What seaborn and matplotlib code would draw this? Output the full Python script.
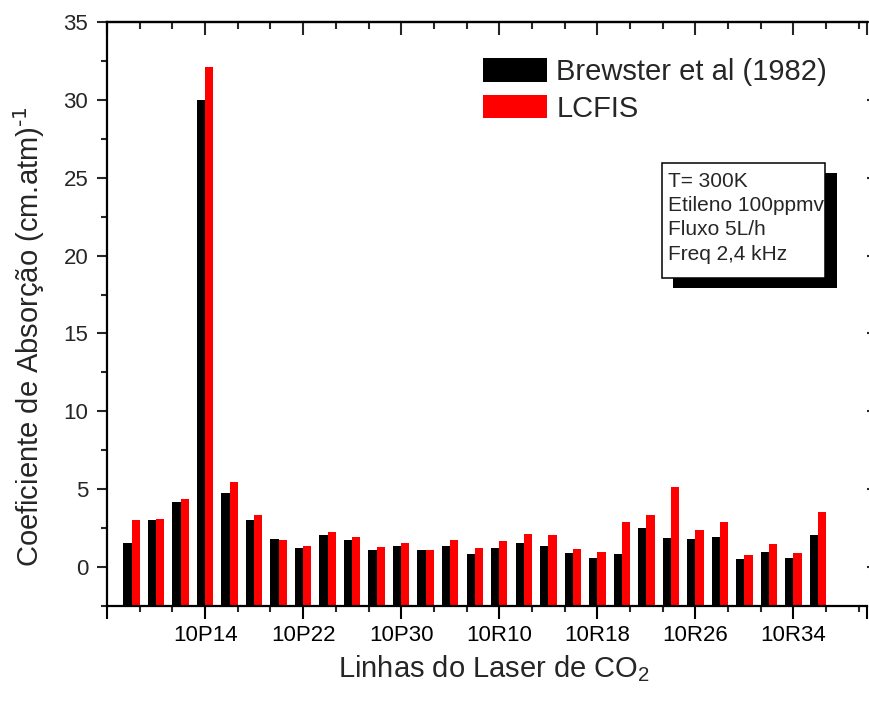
import matplotlib
matplotlib.use("Agg")
import numpy as np
import pandas as pd
import matplotlib.pyplot as plt
import seaborn as sns
from matplotlib.ticker import FixedLocator, MultipleLocator
from matplotlib.patches import Rectangle

# CO2 laser lines (10 µm band), P branch then R branch
lines = ["10P8", "10P10", "10P12", "10P14", "10P16", "10P18", "10P20",
         "10P22", "10P24", "10P26", "10P28", "10P30", "10P32", "10P34",
         "10R8", "10R10", "10R12", "10R14", "10R16", "10R18", "10R20",
         "10R22", "10R24", "10R26", "10R28", "10R30", "10R32", "10R34",
         "10R36"]

# absorption coefficients (cm.atm)^-1
brewster = [1.54, 3.01, 4.19, 30.0, 4.76, 3.03, 1.82, 1.24, 2.09, 1.75,
            1.11, 1.35, 1.11, 1.35, 0.83, 1.24, 1.57, 1.37, 0.92, 0.60,
            0.86, 2.53, 1.89, 1.82, 1.95, 0.54, 0.99, 0.58, 2.08]
lcfis = [3.03, 3.10, 4.36, 32.1, 5.47, 3.35, 1.75, 1.35, 2.26, 1.94,
         1.28, 1.54, 1.11, 1.75, 1.24, 1.70, 2.12, 2.04, 1.18, 0.99,
         2.92, 3.37, 5.11, 2.38, 2.92, 0.79, 1.48, 0.90, 3.56]

series = ["Brewster et al (1982)", "LCFIS"]
colors = ["#000000", "#ff0000"]
tick_labels = ["10P14", "10P22", "10P30", "10R10", "10R18", "10R26", "10R34"]
info_lines = ["T= 300K", "Etileno 100ppmv", "Fluxo 5L/h", "Freq 2,4 kHz"]

Y_MIN, Y_MAX = -2.5, 35

df = pd.DataFrame({
    "linha": lines * 2,
    "fonte": [series[0]] * len(lines) + [series[1]] * len(lines),
    "coef": brewster + lcfis,
})

sns.set_style("ticks")
plt.rcParams["font.family"] = ["Liberation Sans", "DejaVu Sans"]
plt.rcParams["mathtext.default"] = "regular"

fig = plt.figure(figsize=(8.7, 7.04), dpi=100)
ax = fig.add_axes([107 / 870, 1 - 606 / 704, 760 / 870, 584 / 704])

sns.barplot(data=df, x="linha", y="coef", hue="fonte", order=lines,
            hue_order=series, palette=colors, saturation=1, width=0.67,
            errorbar=None, linewidth=0, ax=ax)

# bars rise from the bottom of the axis frame
for p in ax.patches:
    top = p.get_y() + p.get_height()
    p.set_y(Y_MIN)
    p.set_height(top - Y_MIN)

ax.set_ylim(Y_MIN, Y_MAX)
ax.set_xlim(-1, len(lines) + 1)

# x ticks: labelled lines plus the axis ends
label_pos = [lines.index(t) for t in tick_labels]
major_x = [-1] + label_pos + [len(lines) + 1]
ax.xaxis.set_major_locator(FixedLocator(major_x))
ax.set_xticklabels([""] + tick_labels + [""])
minor_x = np.arange(-1, len(lines) + 1.01, 4 / 3)
ax.xaxis.set_minor_locator(FixedLocator(minor_x))

ax.yaxis.set_major_locator(MultipleLocator(5))
ax.yaxis.set_minor_locator(MultipleLocator(2.5))
ax.set_yticks([v for v in range(0, 36, 5)])

for s in ["left", "bottom", "top"]:
    ax.spines[s].set_linewidth(1.6)
    ax.spines[s].set_color("black")
ax.spines["right"].set_visible(False)

ax.tick_params(axis="x", which="major", direction="out", length=9, width=1.5,
               labelsize=16, pad=5, colors="black")
ax.tick_params(axis="x", which="minor", direction="out", length=4.5, width=1.5)
ax.tick_params(axis="y", which="major", direction="out", length=7.5, width=1.5,
               labelsize=16, pad=6, left=True, right=True)
ax.tick_params(axis="y", which="minor", direction="out", length=4, width=1.5,
               right=False)

top = ax.secondary_xaxis("top")
top.xaxis.set_major_locator(FixedLocator(major_x))
top.xaxis.set_minor_locator(FixedLocator(minor_x))
top.tick_params(axis="x", which="major", direction="in", length=9, width=1.5,
                labeltop=False, labelbottom=False)
top.tick_params(axis="x", which="minor", direction="in", length=5, width=1.5)
top.spines["top"].set_linewidth(1.6)

ax.set_xlabel("Linhas do Laser de CO$_2$", fontsize=21)
ax.set_ylabel("Coeficiente de Absorção (cm.atm)$^{\\text{-1}}$", fontsize=21)
ax.xaxis.set_label_coords(0.509, -0.08)
ax.yaxis.set_label_coords(-0.079, 0.462)

sns.move_legend(ax, "upper left", bbox_to_anchor=(0.495, 0.938),
                frameon=False, title=None, fontsize=21, handlelength=2.2,
                handleheight=0.85, handletextpad=0.31, labelspacing=0.3,
                borderaxespad=0, borderpad=0)

# experimental conditions box with drop shadow
ax.add_patch(Rectangle((0.745, 0.545), 0.216, 0.196, transform=ax.transAxes,
                       facecolor="black", edgecolor="none", zorder=5,
                       clip_on=False))
ax.add_patch(Rectangle((0.730, 0.562), 0.215, 0.197, transform=ax.transAxes,
                       facecolor="white", edgecolor="black", linewidth=1.1,
                       zorder=6, clip_on=False))
ax.text(0.738, 0.744, "\n".join(info_lines), transform=ax.transAxes,
        fontsize=15, va="top", ha="left", linespacing=1.36, zorder=7)

fig.savefig("out.png", dpi=100)
